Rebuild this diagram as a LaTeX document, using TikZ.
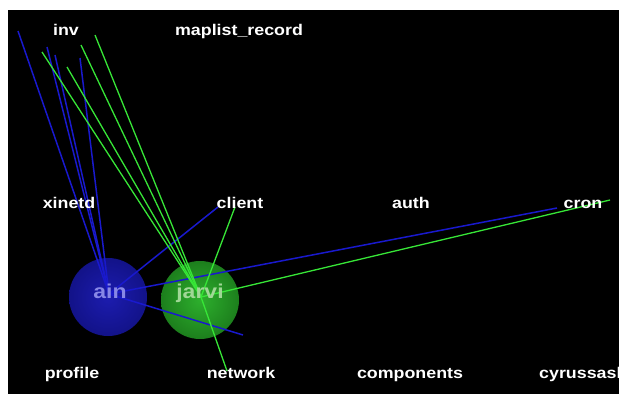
\documentclass[tikz,border=0pt]{standalone}
\usepackage{fontspec}
\setmainfont{Liberation Sans}
\definecolor{bl}{RGB}{25,25,205}
\definecolor{gr}{RGB}{55,230,55}
\definecolor{sphbA}{RGB}{28,28,175}
\definecolor{sphbB}{RGB}{18,18,135}
\definecolor{sphbC}{RGB}{8,8,70}
\definecolor{sphgA}{RGB}{45,175,45}
\definecolor{sphgB}{RGB}{28,125,28}
\definecolor{sphgC}{RGB}{10,60,10}
\definecolor{ainc}{RGB}{135,135,230}
\definecolor{jarc}{RGB}{160,215,150}
\pgfdeclareradialshading{bluesph}{\pgfpoint{0bp}{0bp}}{color(0bp)=(sphbA); color(26bp)=(sphbB); color(40bp)=(sphbC); color(50bp)=(black); color(100bp)=(black)}
\pgfdeclareradialshading{greensph}{\pgfpoint{0bp}{0bp}}{color(0bp)=(sphgA); color(26bp)=(sphgB); color(40bp)=(sphgC); color(50bp)=(black); color(100bp)=(black)}
\begin{document}
\begin{tikzpicture}[x=1pt,y=-1pt,
  lbl/.style={text=white,font=\bfseries\fontsize{15.5}{15.5}\selectfont,xscale=1.15,anchor=base,inner sep=0pt},
  big/.style={font=\bfseries\fontsize{20}{20}\selectfont,xscale=1.15,anchor=base,inner sep=0pt},
  bedge/.style={draw=bl,line width=1.5pt},
  gedge/.style={draw=gr,line width=1.3pt},
  sphere/.style={circle,minimum size=78pt,inner sep=0pt,shade}]
\useasboundingbox (0,0) rectangle (620,394);
\fill[white] (0,0) rectangle (620,394);
\fill[black] (8,10) rectangle (619,394);
\begin{scope}
\clip (8,10) rectangle (619,394);
% spheres
\node[sphere,shading=bluesph] (ainS) at (108,297) {};
\node[sphere,shading=greensph] (jarS) at (200,300) {};
% edge origins
\coordinate (a0) at (109,294);
\coordinate (j0) at (201,297);
% blue ends
\coordinate (b1) at (18,31);
\coordinate (b2) at (47,47);
\coordinate (b3) at (55,55);
\coordinate (b4) at (80,58);
\coordinate (bclient) at (218,207);
\coordinate (bcron) at (557,208);
\coordinate (blow) at (243,335);
% green ends
\coordinate (g1) at (42,52);
\coordinate (g2) at (67,67);
\coordinate (g3) at (81,45);
\coordinate (g4) at (95,35);
\coordinate (gclient) at (235,207);
\coordinate (gcron) at (610,200);
\coordinate (gnet) at (227,371);
% edges
\foreach \e in {b1,b2,b3,b4,bclient,bcron,blow} \draw[bedge] (a0) -- (\e);
\foreach \e in {g1,g2,g3,g4,gclient,gcron,gnet} \draw[gedge] (j0) -- (\e);
% labels
\node[lbl] (inv) at (66,35) {inv};
\node[lbl] (maplist) at (239,35) {maplist\_record};
\node[lbl] (xinetd) at (69,208) {xinetd};
\node[lbl] (client) at (240,208) {client};
\node[lbl] (auth) at (411,208) {auth};
\node[lbl] (cron) at (583,208) {cron};
\node[lbl] (profile) at (72,378) {profile};
\node[lbl] (network) at (241,378) {network};
\node[lbl] (components) at (410,378) {components};
\node[lbl,anchor=base west] (cyrus) at (539,378) {cyrussash};
\node[big,text=ainc] (ain) at (110,298) {ain};
\node[big,text=jarc] (jarvi) at (200,298) {jarvi};
\end{scope}
\end{tikzpicture}
\end{document}
